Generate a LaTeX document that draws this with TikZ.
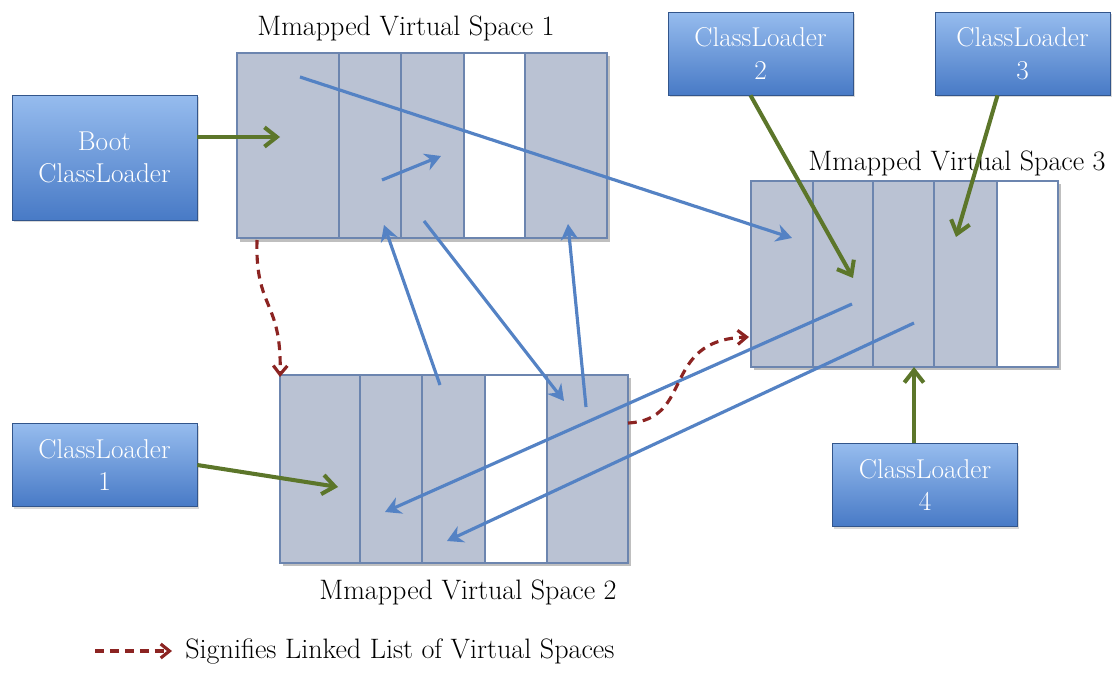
\documentclass[tikz,border=0pt]{standalone}
\usepackage{fontspec}
\usepackage{tikz}
\usetikzlibrary{arrows.meta,positioning,shadows,calc}
\definecolor{cellfill}{RGB}{186,194,211}
\definecolor{cellline}{RGB}{108,133,175}
\definecolor{loadtop}{RGB}{150,188,238}
\definecolor{loadbot}{RGB}{72,122,198}
\definecolor{loadgreen}{RGB}{92,118,42}
\definecolor{ptrblue}{RGB}{84,130,196}
\definecolor{linkred}{RGB}{140,36,34}

\tikzset{
  loader/.style={draw=loadbot!70!black, top color=loadtop, bottom color=loadbot,
    text=white, align=center, inner sep=0pt, font=\fontsize{15.5}{18.5}\selectfont,
    minimum width=3.7cm, minimum height=1.66cm,
    drop shadow={opacity=0.3, shadow xshift=1pt, shadow yshift=-1.2pt}},
  spacetitle/.style={font=\fontsize{16}{19}\selectfont, inner sep=0pt},
  loadarrow/.style={-{Straight Barb[length=7pt,width=11pt]}, loadgreen, line width=2.3pt},
  ptrarrow/.style={-{Stealth[length=9pt,width=10pt]}, ptrblue, line width=1.8pt},
  linkarrow/.style={-{Straight Barb[length=5pt,width=8pt]}, linkred, line width=1.8pt, dash pattern=on 5pt off 3.5pt},
}

\begin{document}
\begin{tikzpicture}[x=0.02cm, y=-0.02cm]
        \useasboundingbox (0,0) rectangle (1116,689);

        % space 1
        \fill[black!25] (240,56) rectangle (610,242);
        \foreach \a/\b/\col in {237/339/cellfill,339/401/cellfill,401/464/cellfill,464/525/white,525/607/cellfill} {
          \draw[cellline,thick,fill=\col] (\a,53) rectangle (\b,238);
        }
        \node[spacetitle] (t1) at (406,28) {Mmapped Virtual Space 1};

        % space 2
        \fill[black!25] (283,378) rectangle (631,566);
        \foreach \a/\b/\col in {280/360/cellfill,360/422/cellfill,422/485/cellfill,485/547/white,547/628/cellfill} {
          \draw[cellline,thick,fill=\col] (\a,375) rectangle (\b,563);
        }
        \node[spacetitle] (t2) at (468,592) {Mmapped Virtual Space 2};

        % space 3
        \fill[black!25] (754,184) rectangle (1061,370);
        \foreach \a/\b/\col in {751/813/cellfill,813/873/cellfill,873/934/cellfill,934/997/cellfill,997/1058/white} {
          \draw[cellline,thick,fill=\col] (\a,181) rectangle (\b,367);
        }
        \node[spacetitle] (t3) at (957,163) {Mmapped Virtual Space 3};

        % class loaders
        \node[loader, minimum height=2.5cm] (boot) at (104.5,157.5) {Boot\\ClassLoader};
        \node[loader] (cl1) at (104.5,465) {ClassLoader\\1};
        \node[loader] (cl2) at (760.5,53.5) {ClassLoader\\2};
        \node[loader, minimum width=3.5cm] (cl3) at (1022.5,53.5) {ClassLoader\\3};
        \node[loader] (cl4) at (925,485) {ClassLoader\\4};

        % end points inside the spaces
        \coordinate (s1boot) at (280,137);
        \coordinate (s2cl1) at (338,487);
        \coordinate (s3cl2) at (853,278);
        \coordinate (s3cl3) at (956,237);
        \coordinate (s3cl4) at (914,367);

        % loaders point into their spaces
        \draw[loadarrow] (boot.east |- s1boot) -- (s1boot);
        \draw[loadarrow] (cl1.east) -- (s2cl1);
        \draw[loadarrow] ($(cl2.south)+(-10,0)$) -- (s3cl2);
        \draw[loadarrow] ($(cl3.south)+(-25,0)$) -- (s3cl3);
        \draw[loadarrow] (cl4.north -| s3cl4) -- (s3cl4);

        % pointers between blocks
        \coordinate (p1a) at (300,77);  \coordinate (p1b) at (792,238);
        \coordinate (p2a) at (382,180); \coordinate (p2b) at (441,156);
        \coordinate (p3a) at (440,385); \coordinate (p3b) at (384,225);
        \coordinate (p4a) at (424,221); \coordinate (p4b) at (564,401);
        \coordinate (p5a) at (586,407); \coordinate (p5b) at (568,224);
        \coordinate (p6a) at (852,304); \coordinate (p6b) at (385,512);
        \coordinate (p7a) at (914,323); \coordinate (p7b) at (447,541);
        \foreach \k in {1,...,7} {
          \draw[ptrarrow] (p\k a) -- (p\k b);
        }

        % linked list of spaces
        \coordinate (l1a) at (257,240); \coordinate (l1b) at (280,377);
        \coordinate (l2a) at (628,423); \coordinate (l2b) at (749,337);
        \draw[linkarrow] (l1a) .. controls (255,310) and (282,300) .. (l1b);
        \draw[linkarrow] (l2a) .. controls (695,420) and (660,340) .. (l2b);

        % legend
        \coordinate (lega) at (95,651); \coordinate (legb) at (172,651);
        \draw[linkarrow] (lega) -- (legb);
        \node[spacetitle, anchor=west] (legend) at (185,651) {Signifies Linked List of Virtual Spaces};
      \end{tikzpicture}
\end{document}
